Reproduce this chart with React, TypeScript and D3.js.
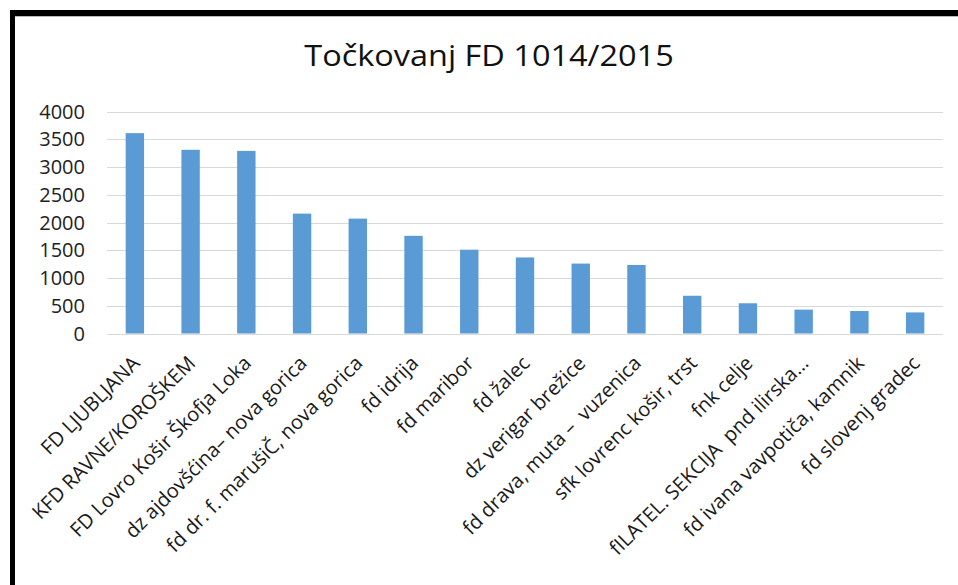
import React, { useEffect, useRef } from 'react';
import * as d3 from 'd3';

const categories = [
  'FD LJUBLJANA',
  'KFD RAVNE/KOROŠKEM',
  'FD Lovro Košir Škofja Loka',
  'dz ajdovšćina– nova gorica',
  'fd dr. f. marušiČ, nova gorica',
  'fd idrija',
  'fd maribor',
  'fd žalec',
  'dz verigar brežice',
  'fd drava, muta –  vuzenica',
  'sfk lovrenc košir, trst',
  'fnk celje',
  'fILATEL. SEKCIJA  pnd ilirska…',
  'fd ivana vavpotiča, kamnik',
  'fd slovenj gradec',
];
const points = [3610, 3310, 3290, 2160, 2070, 1760, 1510, 1370, 1260, 1235, 680, 545, 430, 405, 380];
const yTicks = [0, 500, 1000, 1500, 2000, 2500, 3000, 3500, 4000];
const title = 'Točkovanj FD 1014/2015';

const App = () => {
  const svgRef = useRef<SVGSVGElement>(null);

  useEffect(() => {
    const width = 958;
    const height = 585;
    const left = 107;
    const right = 943;
    const top = 111.5;
    const bottom = 333.5;

    const svg = d3.select(svgRef.current).attr('width', width).attr('height', height);
    svg.selectAll('*').remove();

    svg.append('rect').attr('width', width).attr('height', height).attr('fill', '#fff');

    const x = d3.scaleBand()
      .domain(categories)
      .range([left, right])
      .paddingInner(0.67)
      .paddingOuter(0.335);

    const y = d3.scaleLinear().domain([0, 4000]).range([bottom, top]);

    // frame (top and left only)
    svg.append('rect').attr('x', 10).attr('y', 10).attr('width', 5).attr('height', height - 10).attr('fill', '#000');
    svg.append('rect').attr('x', 10).attr('y', 10).attr('width', width - 10).attr('height', 6).attr('fill', '#000');
    svg.append('line').attr('x1', 15).attr('x2', width).attr('y1', 16.5).attr('y2', 16.5).attr('stroke', '#bbb');

    svg.append('text')
      .attr('transform', 'translate(489,66) scale(1.12,1)')
      .attr('text-anchor', 'middle')
      .style('font-family', '"Open Sans", sans-serif')
      .style('font-size', '29px')
      .attr('fill', '#111')
      .text(title);

    // grid
    svg.append('g')
      .selectAll('line')
      .data(yTicks)
      .enter()
      .append('line')
      .attr('x1', left)
      .attr('x2', right)
      .attr('y1', d => Math.round(y(d)) + 0.5)
      .attr('y2', d => Math.round(y(d)) + 0.5)
      .attr('stroke', '#d9d9d9')
      .attr('stroke-width', 1);

    svg.append('g')
      .selectAll('text')
      .data(yTicks)
      .enter()
      .append('text')
      .attr('x', 85)
      .attr('y', d => y(d))
      .attr('dy', '0.36em')
      .attr('text-anchor', 'end')
      .style('font-family', '"Open Sans", sans-serif')
      .style('font-size', '20px')
      .attr('fill', '#222')
      .text(d => d);

    svg.append('g')
      .selectAll('rect')
      .data(points)
      .enter()
      .append('rect')
      .attr('x', (d, i) => x(categories[i]))
      .attr('y', d => y(d))
      .attr('width', x.bandwidth())
      .attr('height', d => bottom - y(d))
      .attr('fill', '#5b9bd5');

    svg.append('g')
      .selectAll('text')
      .data(categories)
      .enter()
      .append('text')
      .attr('transform', d => `translate(${x(d) + x.bandwidth() / 2 + 6},${bottom + 31}) rotate(-45)`)
      .attr('text-anchor', 'end')
      .style('font-family', '"Open Sans", sans-serif')
      .style('font-size', '20px')
      .style('white-space', 'pre')
      .attr('fill', '#1a1a1a')
      .text(d => d);
  }, []);

  return (
    <div style={{ position: 'absolute', left: 0, top: 0 }}>
      <svg ref={svgRef} style={{ display: 'block' }}></svg>
    </div>
  );
};

export default App;
